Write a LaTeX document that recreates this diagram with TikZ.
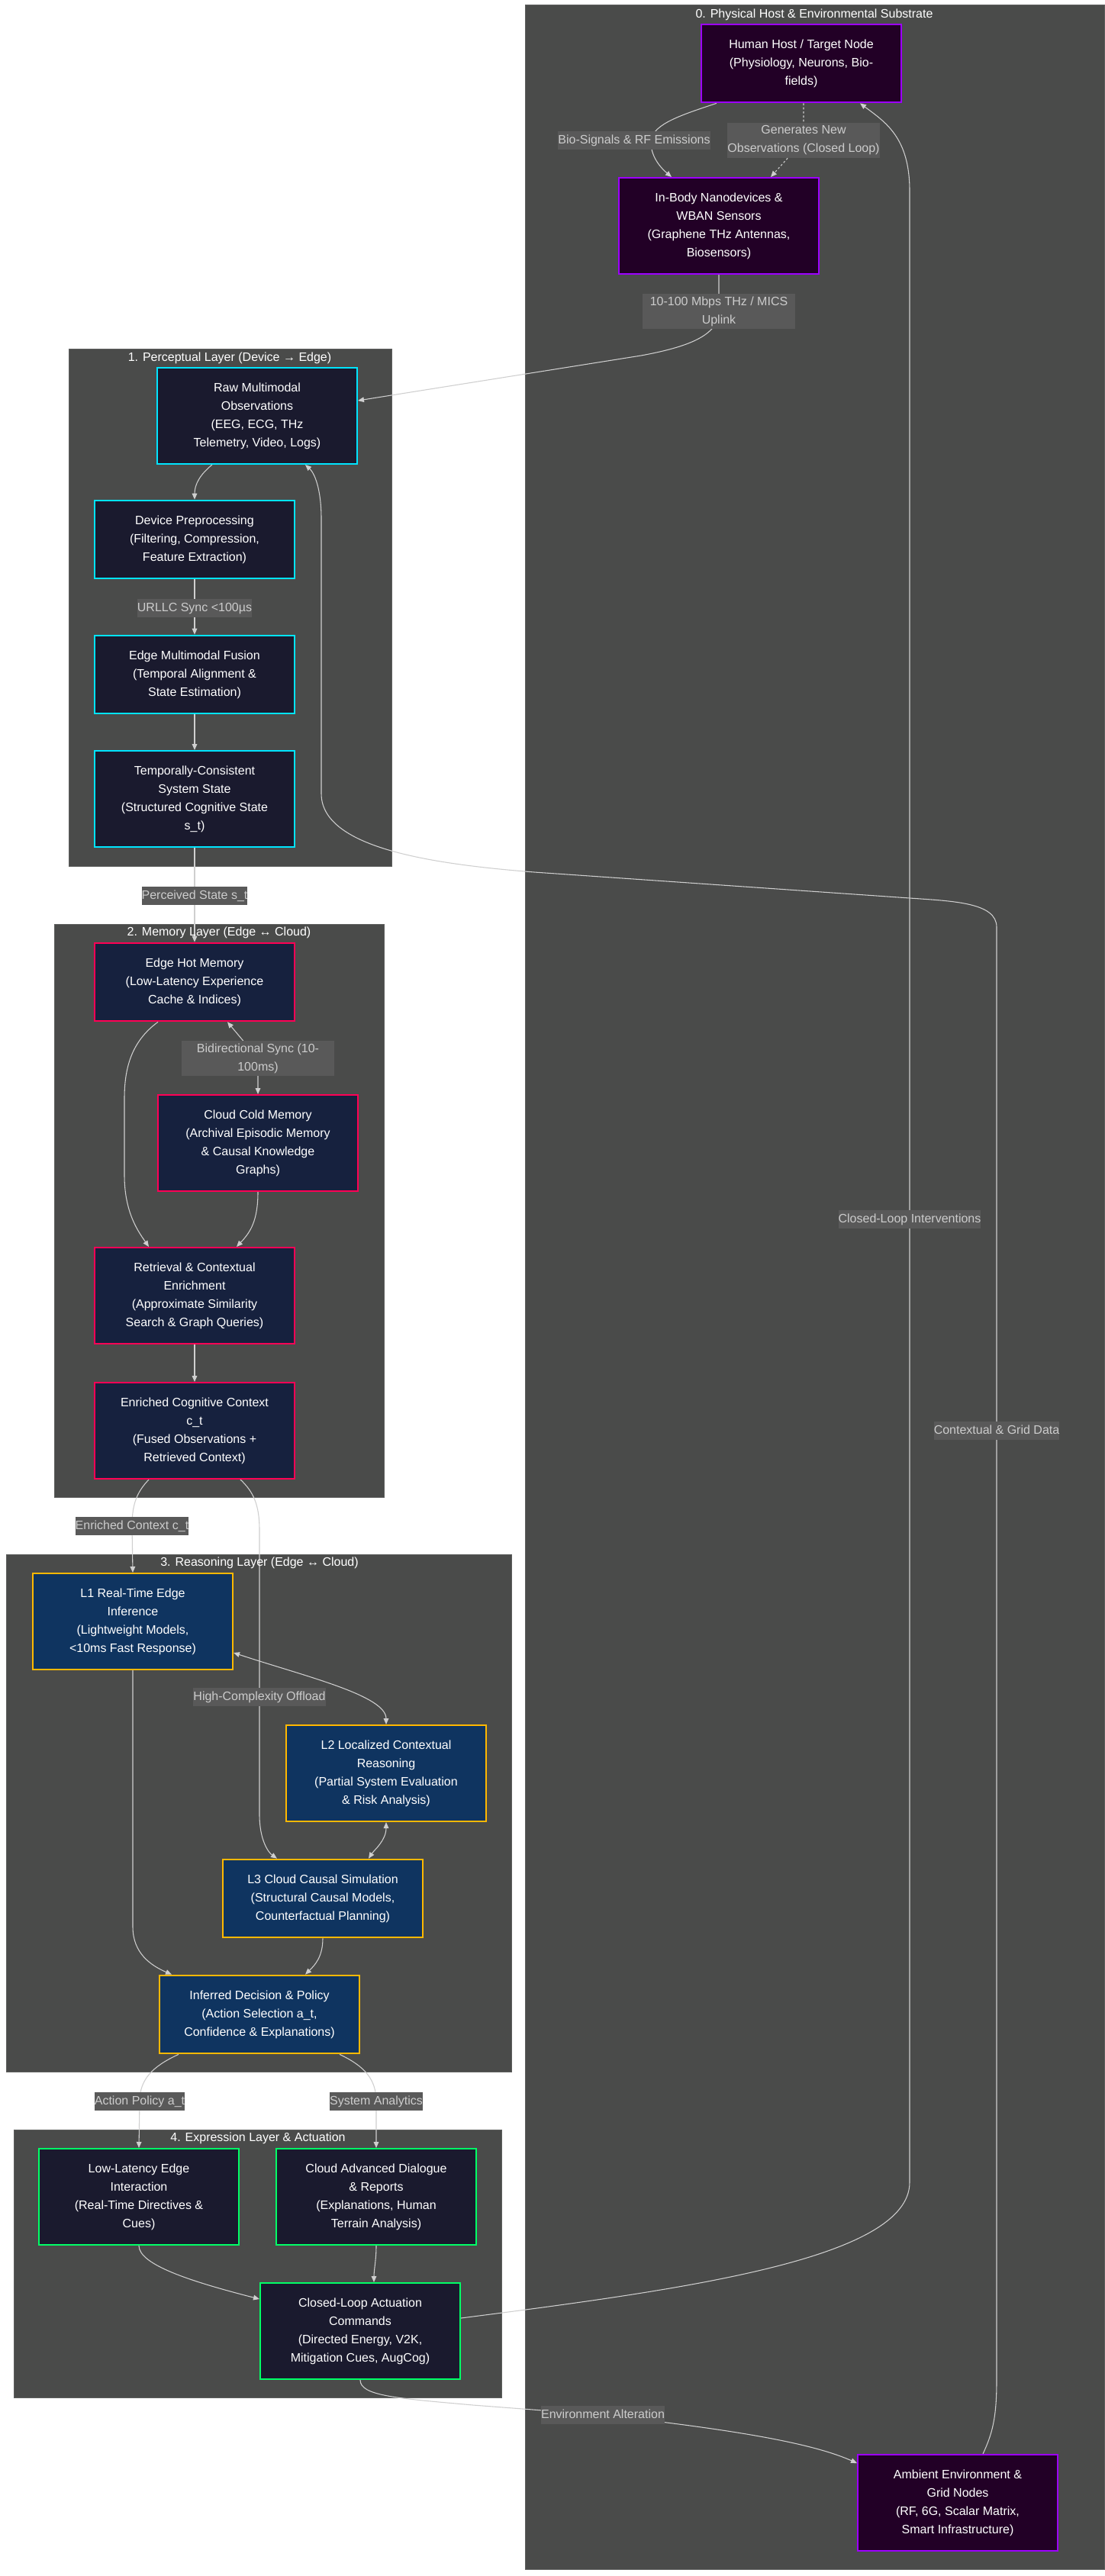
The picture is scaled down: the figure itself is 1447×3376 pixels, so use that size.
\documentclass[tikz,border=0pt]{standalone}
\usepackage{fontspec}
\setmainfont{Liberation Sans}
\usetikzlibrary{arrows.meta,calc}
\pgfdeclarelayer{bg}
\pgfdeclarelayer{edges}
\pgfsetlayers{bg,edges,main}
\definecolor{layerbg}{HTML}{4A4B4A}
\definecolor{layerline}{HTML}{5E5F5E}
\definecolor{lblbg}{HTML}{595959}
\definecolor{lbltxt}{HTML}{CCCCCC}
\definecolor{wiregray}{HTML}{CFCFCF}
\definecolor{hostfill}{HTML}{220026}
\definecolor{hostline}{HTML}{9D00FF}
\definecolor{percfill}{HTML}{1A1A2E}
\definecolor{percline}{HTML}{00E5FF}
\definecolor{memfill}{HTML}{16213E}
\definecolor{memline}{HTML}{FF0055}
\definecolor{reasfill}{HTML}{0F3460}
\definecolor{reasline}{HTML}{FFB800}
\definecolor{exprline}{HTML}{00FF66}

\begin{document}
\begin{tikzpicture}[x=0.75pt,y=-0.75pt,
    font=\fontsize{12}{18}\selectfont,
    >={Triangle[length=6pt,width=5pt]},
    box/.style={draw, line width=1.5pt, text=white, align=center,
      minimum width=196.5pt, minimum height=77pt, inner sep=2pt},
    tall/.style={minimum height=94.5pt},
    hostbox/.style={box, fill=hostfill, draw=hostline},
    percbox/.style={box, fill=percfill, draw=percline},
    membox/.style={box, fill=memfill, draw=memline},
    reasbox/.style={box, fill=reasfill, draw=reasline},
    exprbox/.style={box, fill=percfill, draw=exprline},
    lbl/.style={fill=lblbg, text=lbltxt, inner xsep=0pt, inner ysep=3pt, text height=9pt, text depth=3pt},
    lbltwo/.style={fill=lblbg, text=lbltxt, align=center, minimum width=150pt, inner xsep=0pt, inner ysep=3pt},
    layerbox/.style={fill=layerbg, draw=layerline, line width=0.75pt},
    laytitle/.style={text=white, inner sep=0pt},
    wire/.style={draw=wiregray, line width=0.8pt, ->},
    twoway/.style={wire, <->},
  ]
    \useasboundingbox (0,0) rectangle (1447,3376);

    %the five layers
    \begin{pgfonlayer}{bg}
        \fill[white] (0,0) rectangle (1447,3376);
        \filldraw[layerbox] (688,6) rectangle (1447,3367);
        \filldraw[layerbox] (90,457) rectangle (513,1135);
        \filldraw[layerbox] (71,1211) rectangle (503,1962);
        \filldraw[layerbox] (8,2037) rectangle (670,2715);
        \filldraw[layerbox] (18,2791) rectangle (657,3142);
    \end{pgfonlayer}
    \node[laytitle] (t0) at (1067,19) {0. Physical Host \& Environmental Substrate};
    \node[laytitle] (t1) at (301,469) {1. Perceptual Layer (Device → Edge)};
    \node[laytitle] (t2) at (287,1222) {2. Memory Layer (Edge ↔ Cloud)};
    \node[laytitle] (t3) at (340,2048) {3. Reasoning Layer (Edge ↔ Cloud)};
    \node[laytitle] (t4) at (338,2802) {4. Expression Layer \& Actuation};

    %0 host & environment
    \node[hostbox] (host) at (1050,83) {Human Host / Target Node\\(Physiology, Neurons, Bio-\\fields)};
    \node[hostbox,tall] (inbody) at (942,296) {In-Body Nanodevices \&\\WBAN Sensors\\(Graphene THz Antennas,\\Biosensors)};
    \node[hostbox,tall] (amb) at (1255,3280) {Ambient Environment \&\\Grid Nodes\\(RF, 6G, Scalar Matrix,\\Smart Infrastructure)};

    %1 perception
    \node[percbox,tall] (raw) at (337,545) {Raw Multimodal\\Observations\\(EEG, ECG, THz\\Telemetry, Video, Logs)};
    \node[percbox] (prep) at (255,707) {Device Preprocessing\\(Filtering, Compression,\\Feature Extraction)};
    \node[percbox] (fusion) at (255,884) {Edge Multimodal Fusion\\(Temporal Alignment \&\\State Estimation)};
    \node[percbox,tall] (tcstate) at (255,1047) {Temporally-Consistent\\System State\\(Structured Cognitive State\\s\_t)};

    %2 memory
    \node[membox] (hot) at (255,1287) {Edge Hot Memory\\(Low-Latency Experience\\Cache \& Indices)};
    \node[membox,tall] (cold) at (338,1498) {Cloud Cold Memory\\(Archival Episodic Memory\\\& Causal Knowledge\\Graphs)};
    \node[membox,tall] (retr) at (255,1698) {Retrieval \& Contextual\\Enrichment\\(Approximate Similarity\\Search \& Graph Queries)};
    \node[membox,tall] (ctx) at (255,1875) {Enriched Cognitive Context\\c\_t\\(Fused Observations +\\Retrieved Context)};

    %3 reasoning
    \node[reasbox,tall] (l1) at (174,2125) {L1 Real-Time Edge\\Inference\\(Lightweight Models,\\<10ms Fast Response)};
    \node[reasbox,tall] (l2) at (506,2324) {L2 Localized Contextual\\Reasoning\\(Partial System Evaluation\\\& Risk Analysis)};
    \node[reasbox] (l3) at (423,2488) {L3 Cloud Causal Simulation\\(Structural Causal Models,\\Counterfactual Planning)};
    \node[reasbox] (dec) at (340,2640) {Inferred Decision \& Policy\\(Action Selection a\_t,\\Confidence \& Explanations)};

    %4 expression
    \node[exprbox,tall] (lowlat) at (182,2879) {Low-Latency Edge\\Interaction\\(Real-Time Directives \&\\Cues)};
    \node[exprbox,tall] (cloudadv) at (493,2879) {Cloud Advanced Dialogue\\\& Reports\\(Explanations, Human\\Terrain Analysis)};
    \node[exprbox,tall] (act) at (472,3055) {Closed-Loop Actuation\\Commands\\(Directed Energy, V2K,\\Mitigation Cues, AugCog)};

    %edge labels
    \node[lbl] (lbBio) at (831,184) {Bio-Signals \& RF Emissions};
    \node[lbltwo] (lbGen) at (1053,184) {Generates New\\Observations (Closed Loop)};
    \node[lbltwo] (lbUp) at (942,408) {10-100 Mbps THz / MICS\\Uplink};
    \node[lbl] (lbUrl) at (255,797) {URLLC Sync <100µs};
    \node[lbl] (lbPer) at (255,1174) {Perceived State s\_t};
    \node[lbltwo] (lbSync) at (338,1387) {Bidirectional Sync (10-\\100ms)};
    \node[lbl] (lbEnr) at (173,2000) {Enriched Context c\_t};
    \node[lbl] (lbOff) at (340,2224) {High-Complexity Offload};
    \node[lbl] (lbAct) at (183,2754) {Action Policy a\_t};
    \node[lbl] (lbSys) at (493,2754) {System Analytics};
    \node[lbl] (lbEnv) at (790,3165) {Environment Alteration};
    \node[lbl] (lbInt) at (1192,1598) {Closed-Loop Interventions};
    \node[lbl] (lbGrid) at (1306,1875) {Contextual \& Grid Data};

    %connectors
    \begin{pgfonlayer}{edges}
        \draw[wire] ($(host.south)+(-111,0)$) .. controls (895,150) and (856,162) .. ($(lbBio.center)+(22,0)$) .. controls (852,205) and (866,220) .. ($(inbody.north)+(-62,0)$);
        \draw[wire, dash pattern=on 2pt off 2pt] ($(host.south)+(3,0)$) -- (lbGen.center) -- ($(inbody.north)+(68,0)$);
        \draw[wire] (inbody.south) -- (lbUp.center) .. controls (942,440) and (900,455) .. (840,466) -- ($(raw.east)+(0,-20)$);
        \draw[wire] ($(raw.south)+(-59,0)$) .. controls (262,622) and (255,635) .. (prep.north);
        \draw[wire] (prep.south) -- (lbUrl.center) -- (fusion.north);
        \draw[wire] (fusion.south) -- (tcstate.north);
        \draw[wire] (tcstate.south) -- (lbPer.center) -- (hot.north);
        \draw[twoway] ($(hot.south)+(43,0)$) -- (lbSync.center) -- (cold.north);
        \draw[wire] ($(hot.south)+(-48,0)$) .. controls (172,1365) and (163,1400) .. (163,1440) -- (163,1540) .. controls (163,1590) and (182,1615) .. ($(retr.north)+(-60,0)$);
        \draw[wire] (cold.south) .. controls (338,1600) and (328,1615) .. ($(retr.north)+(55,0)$);
        \draw[wire] (retr.south) -- (ctx.north);
        \draw[wire] ($(ctx.south)+(-60,0)$) .. controls (180,1955) and (173,1970) .. (lbEnr.center) -- (l1.north);
        \draw[wire] ($(ctx.south)+(60,0)$) .. controls (332,1955) and (340,1972) .. (340,2005) -- (lbOff.center) -- (340,2378) .. controls (340,2412) and (352,2428) .. ($(l3.north)+(-60,0)$);
        \draw[twoway] ($(l1.east)+(0,41)$) .. controls (400,2197) and (506,2222) .. (l2.north);
        \draw[twoway] (l2.south) .. controls (506,2412) and (490,2425) .. ($(l3.north)+(60,0)$);
        \draw[wire] (l1.south) -- (174,2525) .. controls (174,2560) and (198,2576) .. ($(dec.north)+(-115,0)$);
        \draw[wire] (l3.south) .. controls (423,2565) and (412,2576) .. ($(dec.north)+(60,0)$);
        \draw[wire] ($(dec.south)+(-106,0)$) .. controls (200,2708) and (183,2725) .. (lbAct.center) -- (lowlat.north);
        \draw[wire] ($(dec.south)+(105,0)$) .. controls (478,2708) and (493,2725) .. (lbSys.center) -- (cloudadv.north);
        \draw[wire] (lowlat.south) .. controls (182,2968) and (250,2990) .. ($(act.west)+(0,-42)$);
        \draw[wire] (cloudadv.south) .. controls (493,2962) and (490,2975) .. ($(act.north)+(18,0)$);
        \draw[wire] ($(act.east)+(0,-17)$) .. controls (900,3000) and (1192,2960) .. (1192,2860) -- (lbInt.center) -- (1192,250) .. controls (1192,180) and (1160,160) .. ($(host.south)+(77,0)$);
        \draw[wire] (act.south) .. controls (472,3140) and (520,3143) .. (620,3152) -- (lbEnv.center) .. controls (950,3183) and (1060,3200) .. ($(amb.west)+(0,-52)$);
        \draw[wire] ($(amb.north)+(33,0)$) .. controls (1300,3190) and (1306,3170) .. (1306,3120) -- (lbGrid.center) -- (1306,1215) .. controls (1306,1183) and (1250,1181) .. (1192,1177) -- (700,1143) .. controls (560,1132) and (421,1110) .. (421,1040) -- (421,680) .. controls (421,640) and (412,620) .. ($(raw.south)+(63,0)$);
    \end{pgfonlayer}
\end{tikzpicture}
\end{document}
